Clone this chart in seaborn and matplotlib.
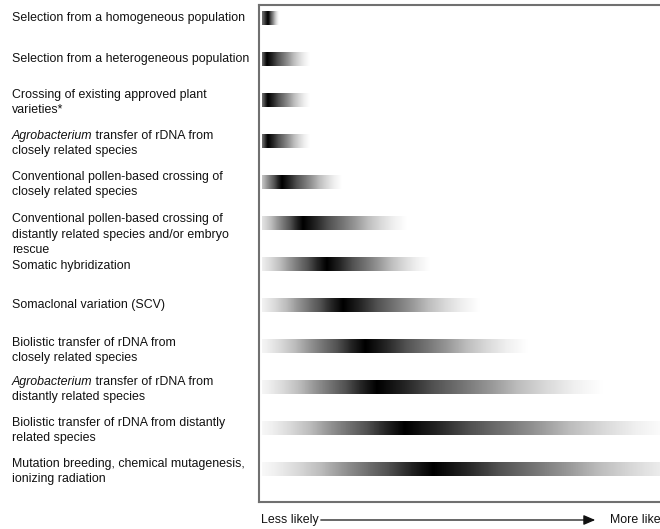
import numpy as np
import matplotlib
matplotlib.use("Agg")
import matplotlib.pyplot as plt
import matplotlib.transforms as mtransforms
from matplotlib.patches import FancyArrowPatch
import seaborn as sns

sns.set_theme(style="white")
plt.rcParams["font.family"] = ["Liberation Sans", "DejaVu Sans"]

# methods, top to bottom (first word italic where marked)
methods = [
    "Selection from a homogeneous population",
    "Selection from a heterogeneous population",
    "Crossing of existing approved plant\nvarieties*",
    "Agrobacterium transfer of rDNA from\nclosely related species",
    "Conventional pollen-based crossing of\nclosely related species",
    "Conventional pollen-based crossing of\ndistantly related species and/or embryo\nrescue",
    "Somatic hybridization",
    "Somaclonal variation (SCV)",
    "Biolistic transfer of rDNA from\nclosely related species",
    "Agrobacterium transfer of rDNA from\ndistantly related species",
    "Biolistic transfer of rDNA from distantly\nrelated species",
    "Mutation breeding, chemical mutagenesis,\nionizing radiation",
]
italic_word = "Agrobacterium"

# likelihood of unintended effects (0 = less likely, 100 = more likely)
range_start = [0.7] * 12
most_likely = [2.0, 1.8, 2.0, 2.0, 5.1, 9.8, 15.1, 18.7, 23.6, 26.2, 32.4, 38.7]
range_end = [4.3, 11.3, 11.3, 11.3, 18.4, 32.9, 38.0, 49.1, 59.6, 76.4, 91.3, 98.0]
label_shift = [-0.03, -0.04, 0.02, 0.03, 0.02, 0.24, 0, -0.05, 0.07, 0.03, 0.02, 0.02]

fade_from = -1.5
bar_h = 0.34
line_gap = 0.366   # 15 px per text line
fs = 8.9
txt_col = "#111111"

fig = plt.figure(figsize=(6.6, 5.29), dpi=100)
ax = fig.add_axes([259 / 660, 1 - 502 / 529, 450 / 660, 497 / 529])

for i in range(len(methods)):
    xs = np.linspace(range_start[i], range_end[i], 600)
    rise = (xs - fade_from) / (most_likely[i] - fade_from)
    fall = (range_end[i] - xs) / (range_end[i] - most_likely[i])
    shade = np.clip(np.where(xs <= most_likely[i], rise, fall), 0, 1)
    ax.imshow(shade[None, :], cmap="Greys", vmin=0, vmax=1, aspect="auto",
              interpolation="bilinear",
              extent=[range_start[i], range_end[i], i + bar_h / 2, i - bar_h / 2])

ax.set_xlim(0, 100)
ax.set_ylim(11.8, -0.32)
ax.set_xticks([])
ax.set_yticks([])
for sp in ax.spines.values():
    sp.set_color("#707070")
    sp.set_linewidth(1.5)

# labels, line by line so the italic word sits on the same baseline
trans = mtransforms.blended_transform_factory(fig.transFigure, ax.transData)
renderer = fig.canvas.get_renderer()
x0 = 12 / 660
for i, lab in enumerate(methods):
    lines = lab.split("\n")
    n = len(lines)
    for k, line in enumerate(lines):
        yb = i + label_shift[i] + (k - (n - 1) / 2) * line_gap + 0.11
        if line.startswith(italic_word):
            t = ax.text(x0, yb, italic_word, transform=trans, ha="left",
                        va="baseline", fontsize=fs, color=txt_col,
                        fontstyle="italic")
            w = t.get_window_extent(renderer).width / fig.bbox.width
            ax.text(x0 + w, yb, line[len(italic_word):], transform=trans,
                    ha="left", va="baseline", fontsize=fs, color=txt_col)
        else:
            ax.text(x0, yb, line, transform=trans, ha="left", va="baseline",
                    fontsize=fs, color=txt_col)

y_arrow = 1 - 520 / 529
fig.text(261 / 660, y_arrow, "Less likely", ha="left", va="center",
         fontsize=fs, color=txt_col)
fig.text(610 / 660, y_arrow, "More likely", ha="left", va="center",
         fontsize=fs, color=txt_col)
fig.add_artist(FancyArrowPatch(
    (318 / 660, y_arrow), (598 / 660, y_arrow), transform=fig.transFigure,
    arrowstyle="-|>,head_length=7,head_width=3", color=txt_col, lw=0.9,
    mutation_scale=1))

fig.savefig("out.png", dpi=100)
